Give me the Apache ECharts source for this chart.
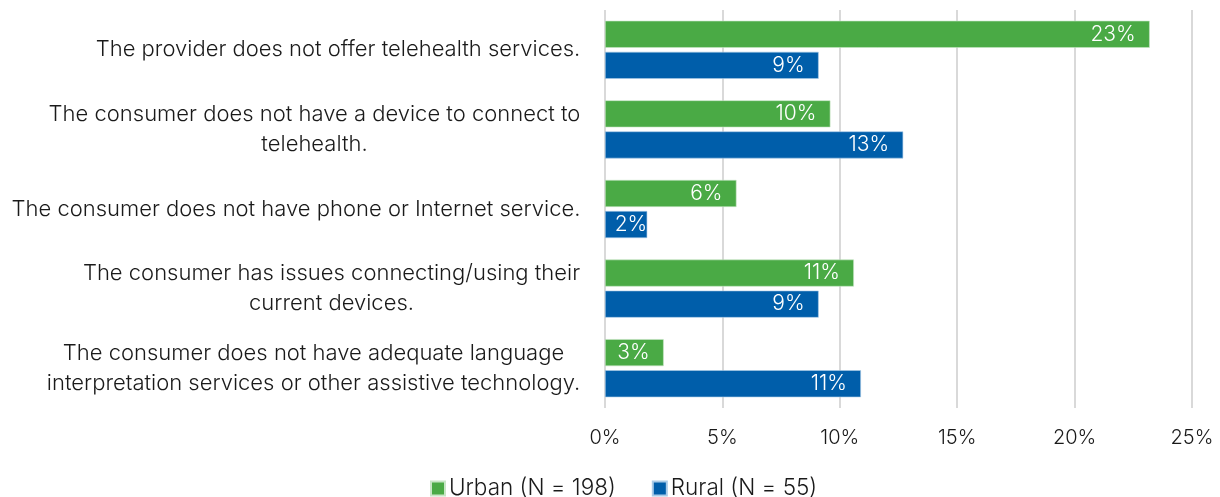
<!DOCTYPE html>
<html>
<head>
<meta charset="utf-8">
<script src="https://cdn.jsdelivr.net/npm/echarts@6/dist/echarts.min.js"></script>
<style>
  html, body { margin: 0; padding: 0; background: #ffffff; }
  #chart { width: 1220px; height: 497px; }
</style>
</head>
<body>
<div id="chart"></div>
<script>
// Reasons consumers could not use telehealth, share of respondents (%)
const categories = [
  'The provider does not offer telehealth services.',
  'The consumer does not have a device to connect to\ntelehealth.',
  'The consumer does not have phone or Internet service.',
  'The consumer has issues connecting/using their\ncurrent devices.',
  'The consumer does not have adequate language\ninterpretation services or other assistive technology.'
];
const urbanValues = [23.2, 9.6, 5.6, 10.6, 2.5];
const ruralValues = [9.1, 12.7, 1.8, 9.1, 10.9];
const seriesNames = ['Urban (N = 198)', 'Rural (N = 55)'];
const xTicks = { min: 0, max: 25, interval: 5 };

const FONT = 'Inter';
const WEIGHT = 300;
const CAT_SIZE = 22;
const LABEL_SIZE = 21;
const LABEL_PAD = 14;

const measureCtx = document.createElement('canvas').getContext('2d');
function textWidth(s, size) {
  measureCtx.font = WEIGHT + ' ' + size + 'px "' + FONT + '"';
  return measureCtx.measureText(s).width;
}

// Wrapped category labels are centred line by line inside a right-aligned block,
// so each label gets a rich style as wide as its longest line.
const catRich = {};
categories.forEach((c, i) => {
  const w = Math.max(...c.split('\n').map(s => textWidth(s, CAT_SIZE)));
  catRich['c' + i] = {
    width: Math.ceil(w) + 1,
    align: 'center',
    fontFamily: FONT,
    fontWeight: WEIGHT,
    fontSize: CAT_SIZE,
    lineHeight: 30,
    color: '#1a1a1a'
  };
});

const chart = echarts.init(document.getElementById('chart'), null, { renderer: 'canvas' });

const fmtPct = v => Math.round(v) + '%';
const barLabel = {
  show: true,
  position: 'insideRight',
  distance: 0,
  offset: [-LABEL_PAD, 0],
  color: '#ffffff',
  fontFamily: FONT,
  fontWeight: WEIGHT,
  fontSize: LABEL_SIZE,
  formatter: p => fmtPct(p.value)
};

chart.setOption({
  animation: false,
  textStyle: { fontFamily: FONT },
  grid: { left: 605, right: 28, top: 10, bottom: 89, containLabel: false },
  legend: {
    data: seriesNames,
    top: 472,
    left: 425,
    itemWidth: 14,
    itemHeight: 14,
    itemGap: 36,
    icon: 'rect',
    textStyle: { fontFamily: FONT, fontWeight: WEIGHT, fontSize: 22.5, color: '#1a1a1a', padding: [0, 0, 0, -1] }
  },
  xAxis: {
    type: 'value',
    min: xTicks.min,
    max: xTicks.max,
    interval: xTicks.interval,
    axisLine: { show: false },
    axisTick: { show: false },
    splitLine: { show: true, lineStyle: { color: '#d9d9d9', width: 2 } },
    axisLabel: {
      margin: 20,
      fontFamily: FONT,
      fontWeight: WEIGHT,
      fontSize: 20,
      color: '#1a1a1a',
      formatter: v => v + '%'
    }
  },
  yAxis: {
    type: 'category',
    data: categories,
    inverse: true,
    axisLine: { show: false },
    axisTick: { show: false },
    axisLabel: {
      margin: 24,
      align: 'right',
      formatter: (v, i) => v.split('\n').map(s => '{c' + i + '|' + s + '}').join('\n'),
      rich: catRich
    }
  },
  series: [
    {
      name: seriesNames[0],
      type: 'bar',
      data: urbanValues,
      barGap: '15%',
      barCategoryGap: '27%',
      itemStyle: { color: '#4aaa45', borderColor: '#c8e6c6', borderWidth: 0.6 },
      label: barLabel
    },
    {
      name: seriesNames[1],
      type: 'bar',
      data: ruralValues,
      barGap: '15%',
      barCategoryGap: '27%',
      itemStyle: { color: '#005eaa', borderColor: '#a9cbe8', borderWidth: 0.6 },
      label: barLabel
    }
  ]
});

// A bar too short to hold its label with padding gets the label flush with its end.
function withLabelFit(values) {
  const x0 = chart.convertToPixel({ xAxisIndex: 0 }, 0);
  const need = LABEL_SIZE * 1.3 + LABEL_PAD * 1.5;
  return values.map(v => {
    const len = chart.convertToPixel({ xAxisIndex: 0 }, v) - x0;
    return len < need ? { value: v, label: { offset: [0, 0] } } : { value: v };
  });
}
chart.setOption({
  series: [
    { data: withLabelFit(urbanValues) },
    { data: withLabelFit(ruralValues) }
  ]
});
</script>
</body>
</html>
